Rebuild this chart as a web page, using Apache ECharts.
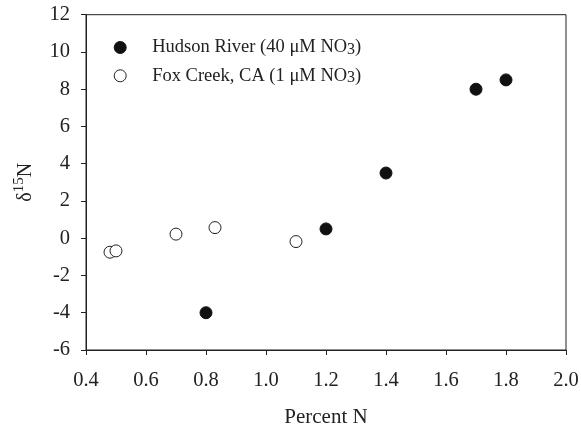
<!DOCTYPE html>
<html>
<head>
<meta charset="utf-8">
<script src="https://cdn.jsdelivr.net/npm/echarts@6/dist/echarts.min.js"></script>
<style>
  html, body { margin: 0; padding: 0; background: #fff; }
  #chart { width: 581px; height: 426px; }
</style>
</head>
<body>
<div id="chart"></div>
<script>
// Percent N versus δ15N for two sites
const hudsonPercentN = [0.8, 1.2, 1.4, 1.7, 1.8];
const hudsonDelta15N = [-4.0, 0.5, 3.5, 8.0, 8.5];
const foxPercentN = [0.48, 0.50, 0.70, 0.83, 1.10];
const foxDelta15N = [-0.75, -0.68, 0.22, 0.57, -0.18];
const seriesNames = ['Hudson River (40 μM NO3)', 'Fox Creek, CA (1 μM NO3)'];

const FONT = 'Liberation Serif';
const INK = '#222';

function pairs(xs, ys) {
  return xs.map((x, i) => [x, ys[i]]);
}

const chart = echarts.init(document.getElementById('chart'));
chart.setOption({
  animation: false,
  backgroundColor: '#fff',
  textStyle: { fontFamily: FONT, color: INK },
  grid: {
    left: 86, right: 15, top: 14.7, bottom: 76,
    outerBoundsMode: 'none',
    containLabel: false,
    show: true, borderColor: INK, borderWidth: 1, backgroundColor: 'transparent'
  },
  legend: {
    orient: 'vertical',
    left: 113.7, top: 36.5,
    padding: 0,
    itemWidth: 54, itemHeight: 12, itemGap: 6.3,
    icon: 'circle',
    itemStyle: { borderWidth: 1 },
    data: seriesNames,
    formatter: function (name) {
      const cut = name.lastIndexOf('3');
      return '{t|' + name.slice(0, cut) + '}{s|3}{t|' + name.slice(cut + 1) + '}';
    },
    textStyle: {
      fontFamily: FONT, color: INK, fontSize: 18.5, lineHeight: 22,
      rich: {
        t: { fontFamily: FONT, color: INK, fontSize: 18.5, lineHeight: 22 },
        s: { fontFamily: FONT, color: INK, fontSize: 16, lineHeight: 22, padding: [4, 0, 0, 0] }
      }
    }
  },
  xAxis: {
    type: 'value',
    min: 0.4, max: 2.0, interval: 0.2,
    name: 'Percent N',
    nameLocation: 'middle',
    nameGap: 57,
    nameTextStyle: { fontFamily: FONT, color: INK, fontSize: 21 },
    axisLine: { show: true, onZero: false, lineStyle: { color: INK, width: 1 } },
    axisTick: { show: true, inside: false, length: 5, lineStyle: { color: INK } },
    axisLabel: {
      margin: 20, fontFamily: FONT, color: INK, fontSize: 20.5,
      formatter: v => v.toFixed(1)
    },
    splitLine: { show: false }
  },
  yAxis: {
    type: 'value',
    min: -6, max: 12, interval: 2,
    name: '{d|δ}{u|15}{d|N}',
    nameLocation: 'middle',
    nameGap: 50,
    nameRotate: 90,
    nameTextStyle: {
      fontFamily: FONT, color: INK, fontSize: 20,
      rich: {
        d: { fontFamily: FONT, color: INK, fontSize: 20, lineHeight: 24, verticalAlign: 'bottom' },
        u: { fontFamily: FONT, color: INK, fontSize: 15, lineHeight: 24, verticalAlign: 'top', padding: [0, 0, 6, 0] }
      }
    },
    axisLine: { show: true, onZero: false, lineStyle: { color: INK, width: 1 } },
    axisTick: { show: true, inside: false, length: 5, lineStyle: { color: INK } },
    axisLabel: { margin: 16, fontFamily: FONT, color: INK, fontSize: 20.5 },
    splitLine: { show: false }
  },
  series: [
    {
      name: seriesNames[0],
      type: 'scatter',
      symbol: 'circle',
      symbolSize: 12,
      itemStyle: { color: '#111', borderColor: '#111', borderWidth: 1, opacity: 1 },
      data: pairs(hudsonPercentN, hudsonDelta15N),
      z: 3
    },
    {
      name: seriesNames[1],
      type: 'scatter',
      symbol: 'circle',
      symbolSize: 12,
      itemStyle: { color: '#fff', borderColor: INK, borderWidth: 1, opacity: 1 },
      data: pairs(foxPercentN, foxDelta15N),
      z: 2
    }
  ]
});
</script>
</body>
</html>
